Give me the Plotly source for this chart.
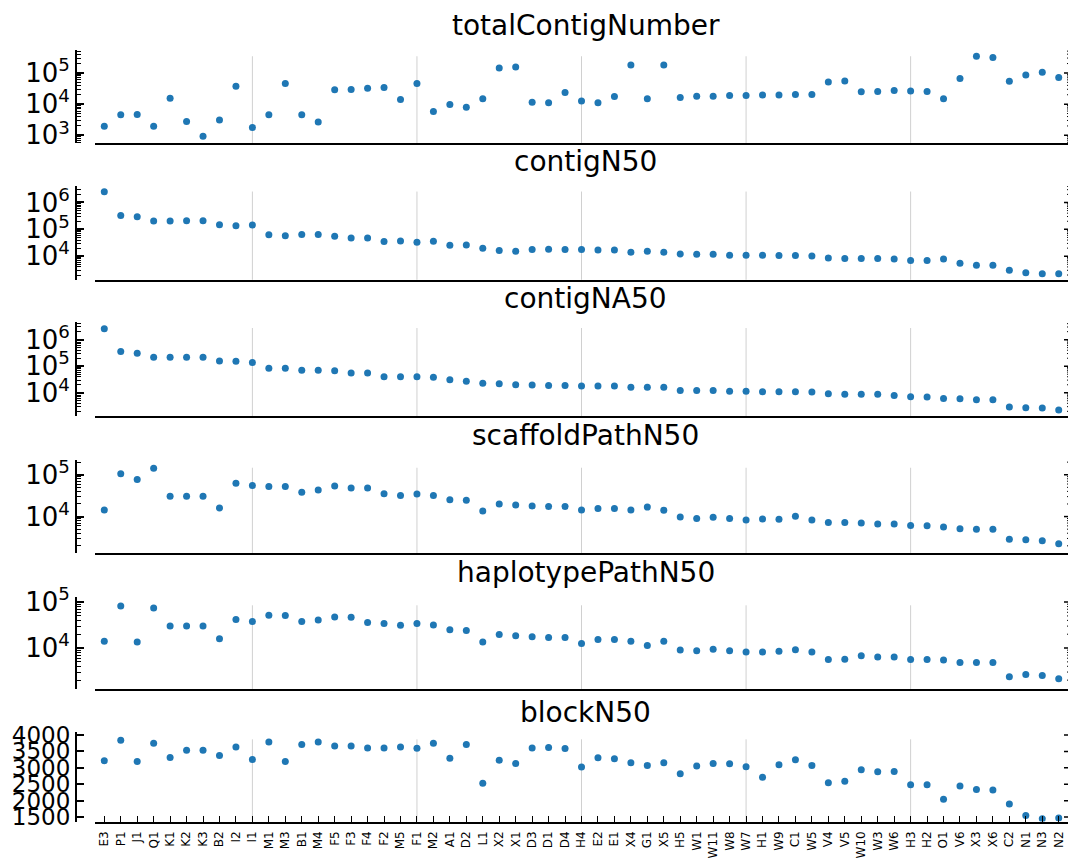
import plotly.graph_objects as go
import math

# ---------------- data ----------------
samples = ["E3","P1","J1","Q1","K1","K2","K3","B2","I2","I1",
           "M1","M3","B1","M4","F5","F3","F4","F2","M5","F1",
           "M2","A1","D2","L1","X2","X1","D3","D1","D4","H4",
           "E2","E1","X4","G1","X5","H5","W1","W11","W8","W7",
           "H1","W9","C1","W5","V4","V5","W10","W3","W6","H3",
           "H2","O1","V6","X3","X6","C2","N1","N3","N2"]

totalContigNumber = [1940,4570,4680,1940,15500,2800,930,3090,37500,1800,
                     4570,45600,4570,2660,28700,29400,32300,34000,14000,45600,
                     5840,9700,8000,14800,144000,155000,11500,11000,23500,12500,
                     11000,17500,180000,14800,180000,16300,18000,18000,19000,19000,
                     19800,19800,20400,20400,51500,55000,25000,25500,27300,26500,
                     25500,14800,66000,340000,315000,54000,86000,105000,71000]

contigN50 = [2500000,330000,295000,203000,203000,210000,210000,149000,137000,145000,
             63000,58000,65000,65000,55000,48000,48000,35000,37000,33000,
             36000,25500,26000,19800,16200,15300,17700,18100,17700,17700,
             17200,17200,14100,15300,14100,12200,11900,11900,10900,10900,
             10900,10600,10600,10300,8670,8200,8200,8200,7960,6910,
             6910,7960,5510,4640,4640,3030,2410,2220,2220]

contigNA50 = [2580000,355000,308000,217000,217000,217000,217000,158000,154000,137000,
              84000,84000,71000,71000,67000,55000,55000,40000,40000,40000,
              38700,30700,27400,23000,21700,19900,19400,18800,18800,17800,
              17800,17800,16300,16300,16300,12200,12200,12200,11500,11500,
              10900,10900,10900,10600,9200,8700,8700,8700,7900,7100,
              6900,6100,5950,5460,5460,2900,2740,2660,2240]

scaffoldPathN50 = [14400,106000,77000,142000,30500,30500,30500,16100,63000,55000,
                   52500,52500,38000,43000,54000,48000,48000,35000,32000,34600,
                   32000,25400,24500,13600,20000,19000,18000,17300,17300,14400,
                   15500,15500,14400,16900,14100,9800,8960,9600,8960,8330,
                   8800,8650,10200,8330,7200,7200,7060,6690,6690,6100,
                   6000,5670,5090,5000,5000,2890,2780,2630,2240]

haplotypePathN50 = [14100,82000,13500,74000,30300,30300,30300,15900,42000,37600,
                    51600,50800,37600,40900,47500,46700,35800,34000,31400,34000,
                    31900,24900,24000,13500,19700,18500,17600,17000,17000,12600,
                    15400,15400,14100,11400,14100,9050,8760,9360,8760,8200,
                    8200,8470,9200,8200,5600,5700,6830,6400,6400,5600,
                    5600,5500,4830,4830,4830,2370,2650,2530,2140]

blockN50 = [3214,3839,3194,3748,3315,3536,3536,3375,3637,3254,
            3788,3194,3708,3788,3667,3667,3607,3607,3637,3597,
            3748,3294,3708,2528,3234,3133,3607,3617,3587,3022,
            3304,3274,3153,3073,3153,2820,3052,3133,3123,3032,
            2710,3093,3244,3073,2548,2589,2940,2881,2891,2488,
            2488,2044,2448,2337,2327,1900,1544,1447,1468]

panel_titles = ["totalContigNumber","contigN50","contigNA50",
                "scaffoldPathN50","haplotypePathN50","blockN50"]
panel_series = [totalContigNumber, contigN50, contigNA50,
                scaffoldPathN50, haplotypePathN50, blockN50]
grid_samples = ["I1","F1","H4","W7","H3"]
block_ticks = [1500, 2000, 2500, 3000, 3500, 4000]

# ---------------- layout geometry (page pixels) ----------------
PAGE_OFF = 8          # default body margin of the html page
W, H = 1068, 861      # figure size; page right edge = PAGE_OFF + W = 1076
panel_px = [(49.7, 143.3), (185.9, 279.8), (322.4, 416.0),
            (459.8, 553.1), (596.5, 689.0), (732.0, 821.5)]
panel_range = [(2.745, 5.745), (3.123, 6.617), (3.125, 6.65),
               (3.127, 5.357), (3.108, 5.122), (1365, 4091)]
grid_frac = [0.93, 0.94, 0.94, 0.915, 0.905, 0.918]
title_gap = [24, 24, 24, 24, 24, 20]
plot_left_px = 95
plot_right_px = 1076
right_tick_px = 1071
spine_px = 76
x_range = [-0.565, 59.05]

FONT = "DejaVu Sans"
BLUE = "#1f77b4"

def py(px):
    return 1 - (px - PAGE_OFF) / H

def pxf(px):
    return (px - PAGE_OFF) / W

fig = go.Figure()
layout = dict(width=W, height=H, margin=dict(l=0, r=0, t=0, b=0, pad=0),
              paper_bgcolor="white", plot_bgcolor="white",
              showlegend=False, font=dict(family=FONT, color="black"))
shapes = []
annotations = []

def right_ticks(yn, vals, length, width):
    for v in vals:
        shapes.append(dict(type="line", xref="paper", yref=yn,
                           x0=pxf(right_tick_px) - length / W,
                           x1=pxf(right_tick_px), y0=v, y1=v,
                           line=dict(color="black", width=width)))

for i, (title, series) in enumerate(zip(panel_titles, panel_series)):
    k = i + 1
    xn = f"x{k}" if k > 1 else "x"
    yn = f"y{k}" if k > 1 else "y"
    top, bot = panel_px[i]
    dom_y = [py(bot), py(top)]
    is_log = i < 5
    fig.add_trace(go.Scatter(x=samples, y=series, mode="markers",
                             marker=dict(color=BLUE, size=7),
                             xaxis=xn, yaxis=yn, hoverinfo="x+y"))
    last = (i == 5)
    xa = dict(type="category", categoryorder="array", categoryarray=samples,
              domain=[pxf(plot_left_px), pxf(plot_right_px)], range=x_range,
              anchor=yn, automargin=False,
              showline=True, linecolor="black", linewidth=2,
              showgrid=False, zeroline=False,
              ticks="inside" if last else "", ticklen=6, tickwidth=1,
              tickcolor="black", showticklabels=last, tickangle=-90,
              ticklabelstandoff=3,
              tickfont=dict(size=12, family=FONT))
    lo, hi = panel_range[i]
    if is_log:
        majors = [10 ** e for e in range(math.ceil(lo), math.floor(hi) + 1)]
        minors = []
        for e in range(math.floor(lo), math.ceil(hi) + 1):
            for m in range(2, 10):
                v = m * 10 ** e
                if lo <= math.log10(v) <= hi:
                    minors.append(v)
        ticktext = [f"10<sup>{int(round(math.log10(v)))}</sup>" for v in majors]
        ya = dict(type="log", range=[lo, hi], domain=dom_y, automargin=False,
                  tickvals=majors, ticktext=ticktext, ticks="inside", ticklen=7,
                  tickwidth=1.5, tickcolor="black", showgrid=False, zeroline=False,
                  minor=dict(tickvals=minors, ticks="inside", ticklen=4,
                             tickwidth=1, tickcolor="black", showgrid=False),
                  anchor="free", position=pxf(spine_px), showline=True,
                  linecolor="black", linewidth=2,
                  tickfont=dict(size=26, family=FONT), ticklabelstandoff=0)
        right_ticks(yn, majors, 7, 1.5)
        right_ticks(yn, minors, 4, 1)
    else:
        ya = dict(type="linear", range=[lo, hi], domain=dom_y, automargin=False,
                  tickvals=block_ticks, ticktext=[str(v) for v in block_ticks],
                  ticks="inside", ticklen=7, tickwidth=1.5, tickcolor="black",
                  showgrid=False, zeroline=False,
                  anchor="free", position=pxf(spine_px), showline=True,
                  linecolor="black", linewidth=2,
                  tickfont=dict(size=23, family=FONT), ticklabelstandoff=0)
        right_ticks(yn, block_ticks, 7, 1.5)
    layout["xaxis" if k == 1 else f"xaxis{k}"] = xa
    layout["yaxis" if k == 1 else f"yaxis{k}"] = ya

    for g in grid_samples:
        shapes.append(dict(type="line", xref=xn, yref=f"{yn} domain",
                           x0=g, x1=g, y0=0, y1=grid_frac[i],
                           line=dict(color="#d0d0d0", width=1), layer="below"))
    annotations.append(dict(text=title, xref="paper", yref="paper",
                            x=pxf((plot_left_px + plot_right_px) / 2),
                            y=py(top - title_gap[i]),
                            xanchor="center", yanchor="middle", showarrow=False,
                            font=dict(size=28, family=FONT, color="black")))

layout["shapes"] = shapes
layout["annotations"] = annotations
fig.update_layout(**layout)
fig.write_html("out.html")
